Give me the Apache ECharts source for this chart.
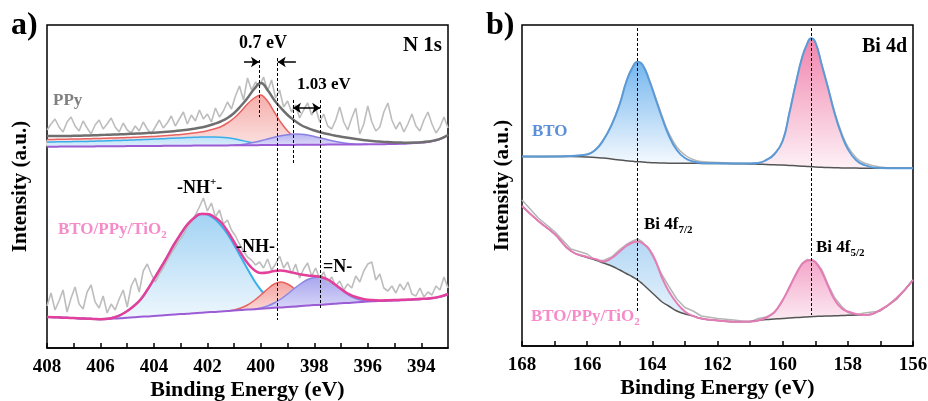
<!DOCTYPE html>
<html>
<head>
<meta charset="UTF-8">
<title>XPS N 1s / Bi 4d</title>
<script src="https://cdn.jsdelivr.net/npm/echarts@6/dist/echarts.min.js"></script>
<style>html,body{margin:0;padding:0;background:#fff;}</style>
</head>
<body>
<div id="myChart" style="width:928px;height:401px;"></div>
<script type="text/javascript">
// ---------- a) N 1s : fit grid 408 -> 393 eV, step 0.25 ----------
var nE = [];
for (var i = 0; i <= 60; i++) nE.push(408 - i * 0.25);
// raw spectra sampled every 0.15 eV
var nRawE = [];
for (var i = 0; i <= 100; i++) nRawE.push(+(408 - i * 0.15).toFixed(2));

var nTicks = [394,395,396,397,398,399,400,401,402,403,404,405,406,407,408];
var nLabels = [394,396,398,400,402,404,406,408];

// PPy (upper)
var ppyFit = [212,212,212,212,212.2,212.3,212.5,212.7,213,213.2,
  213.4,213.7,214,214.3,214.6,215,215.3,215.7,216.2,216.8,
  217.5,218.3,219.3,220.5,222,224,226.5,230,235,242,
  250,259,265,258,248,240,233,227.5,223,220,
  217.5,215.5,214,212.5,211.3,210.2,209.2,208.3,207.5,206.8,
  206.3,205.9,205.6,205.4,205.3,205.4,205.7,206.4,207.6,209.6,213];
var ppyBase = [201.3,201.3,201.4,201.4,201.5,201.5,201.6,201.6,201.7,201.7,
  201.8,201.8,201.9,201.9,202,202,202.1,202.1,202.2,202.2,
  202.3,202.3,202.4,202.4,202.5,202.5,202.6,202.6,202.7,202.7,
  202.8,202.8,202.9,202.9,203,203,203.1,203.1,203.2,203.2,
  203.3,203.3,203.4,203.4,203.5,203.5,203.6,203.6,203.7,203.7,
  203.8,203.9,204,204.2,204.5,204.9,205.4,206.1,207.3,209.4,213];
var ppyRed = [208.5,208.6,208.7,208.8,209,209.1,209.2,209.4,209.6,209.8,
  210,210.2,210.4,210.7,211,211.3,211.6,212,212.5,213,
  213.5,214.2,215,216,217.3,219,221.3,225,230,236.5,
  244,250,253,247,236,225.5,217,211,207,204.7,203.5];
var ppyRedFrom = 408;
var ppyBlue = [206,206.1,206.2,206.3,206.4,206.5,206.6,206.8,207,207.2,
  207.4,207.6,207.8,208,208.3,208.6,208.9,209.2,209.5,209.8,
  210.1,210.4,210.7,210.9,211,211,210.8,210.2,209.2,207.8,
  206.3,205,204,203.3,202.9];
var ppyBlueFrom = 408;
var ppyPurple = [202.7,203.3,204.3,205.7,207.3,209,210.7,212.2,213.3,214,
  213.8,213,211.6,210,208.3,206.8,205.5,204.6,204,203.7,203.6];
var ppyPurpleFrom = 401;
var ppyRaw = [218,224,229,221,216,226,231,222,217,227,220,
  214,223,228,219,224,230,221,216,225,218,
  215,222,217,226,219,214,221,228,220,225,
  232,222,229,236,224,233,227,238,229,234,
  226,240,231,237,246,239,252,262,248,270,
  258,266,262,271,257,268,250,258,241,247,
  236,243,230,238,245,233,240,226,234,222,
  219,228,241,226,218,230,240,214,224,242,
  226,217,221,236,245,228,219,226,216,224,
  234,222,217,228,236,224,215,221,231,220];

// BTO/PPy/TiO2 (lower)
var lowFit = [31,30.8,30.5,30.2,30,29.6,29.3,29,28.8,29.2,
  30.5,33,37,42,48.5,58,69,80,91.5,103.5,
  114,123.5,130,134,134,131,126,117,106,95,
  85,78,75,75.5,77,77.5,76.5,75,73.5,72.5,
  72,71,68.5,64,59,54.5,51.5,49.5,48.3,47.8,
  47.6,47.7,47.9,48.2,48.5,48.8,49.2,49.6,50.3,51.8,54];
var lowBase = [31,30.8,30.5,30.2,30,29.6,29.3,29,28.7,28.9,
  29.4,29.8,30.3,30.7,31.2,31.6,32.1,32.5,33,33.4,
  33.9,34.3,34.8,35.2,35.7,36.1,36.6,37,37.5,37.9,
  38.4,38.8,39.3,39.7,40.2,40.6,41.1,41.5,42,42.4,
  42.9,43.3,43.8,44.2,44.7,45.1,45.6,46,46.5,46.8,
  47,47.2,47.4,47.7,48,48.4,48.8,49.3,50,51.5,54];
var lowNHp = [31,30.8,30.5,30.2,30,29.6,29.3,29,28.8,29.2,
  30.5,33,37,42,48.5,58,69,80,91.5,103.5,
  114,123.5,130,134,133.5,129.5,123,114,103,91,
  79,67.5,58,51,46,43.5,42,41.7,42];
var lowNHpFrom = 408;
var lowNH = [37,38,40,43,47.5,53,59,64,66,64,59.5,53.5,48,44.7,43.6,43.8];
var lowNHFrom = 401.25;
var lowN = [38.8,40,42,45,49,54,59.5,64.5,68.5,70.5,70.5,68.5,64,58.5,53.5,50,47.8,46.8,46.8];
var lowNFrom = 400.25;
var lowRaw = [42,55,38,47,58,36,50,61,44,39,56,
  63,46,40,52,35,44,38,49,58,41,
  62,70,56,77,84,74,66,74,80,88,
  95,101,108,113,121,126,133,141,150,137,
  145,131,138,124,128,118,112,104,97,91,
  88,83,86,80,89,78,84,92,80,86,
  74,84,70,79,85,72,80,69,76,65,
  71,62,67,58,64,60,72,66,77,84,
  86,68,74,60,57,62,55,64,58,66,
  54,52,60,51,56,53,62,58,71,60];

// ---------- b) Bi 4d ----------
var bE = [168,167.5,167,166.5,166,165.75,165.5,165.25,165,164.8,164.6,164.45,164.3,164.1,163.9,163.7,163.5,163.25,163,162.75,
  162.5,162,161.5,161,160.75,160.5,160.25,160,159.8,159.6,159.4,159.25,159.13,159,158.8,158.6,158.4,158.2,158,157.75,
  157.5,157,156.5,156];
var bTicks = [156,157,158,159,160,161,162,163,164,165,166,167,168];
var bLabels = [156,158,160,162,164,166,168];

var btoFit = [189.5,189.5,189.5,190,191.5,196,206,221,242,264,279,284.3,281,266,247,228,211,196,188,184.5,
  183,182.7,182.5,182.5,183,186,192,205,232,262,289,302,307.7,304,281,257,232,212,197,186,
  181,178,177.7,177.7];
var btoBase = [189.5,189.5,189.5,189.5,189,188.5,188,187,186,185.3,184.7,184.3,184,183.5,183.2,183,182.8,182.7,182.7,182.7,
  182.6,182.5,182.3,182,181.8,181.5,181.2,181,180.6,180.2,179.8,179.5,179.3,179,178.7,178.4,178.2,178.1,178,177.9,
  177.8,177.7,177.7,177.7];
var btoRaw = [189.5,189.3,189.6,190.2,191.8,196.5,206.5,221.5,242.5,264.5,279.5,284,281.5,267,248.5,230,213.5,199,191,186.5,
  184.5,183.5,183,182.8,183.3,186.3,192.5,205.5,232.5,262.5,289,302,307,304,281.5,258,233.5,214,199.5,188.5,
  183,179,178,177.8];
var bLowFit = [140,125,112,95,89,87,84.5,88,94.5,100,103.5,104.5,102.5,97,85,68,55,43,34.5,30,
  27.5,25.5,24.3,24.5,25.5,28.5,34,46,58,71,82,85.5,86,84,74,59.5,46,38,34.5,32,
  31,36,48,66];
var bLowBase = [140,125,112,95,88.5,86,83,80,76,72.5,69,66,62,56,50,44,40,35,32,30,
  27.5,25.5,24.3,24.5,25.5,26.5,27,27.5,28,28.4,28.8,29.1,29.3,29.5,29.8,30,30.2,30.5,30.7,31,
  31,36,48,66];
var bLowRaw = [146,128,114.5,97,92,86,85.5,89,96.5,101.5,105,107,104,96,84,71,60,47,38.5,35,
  30,27.5,26,24,27.5,29,33.5,45,59,72,83,86.5,85,84.5,76.5,61,48,40,33.5,31,
  33,35,46.5,66];

var fontFam = '"Liberation Serif", "Times New Roman", serif';

function pairs(xs, ys) {
  return xs.map(function (x, k) { return [x, ys[k]]; });
}
// put a component that starts at energy `from` onto the full 0.25 eV grid
function place(arr, from) {
  var start = Math.round((408 - from) / 0.25), out = [];
  for (var k = 0; k < nE.length; k++) {
    out.push(k >= start && k < start + arr.length ? arr[k - start] : null);
  }
  return out;
}
function part(arr, i0, i1) {
  return arr.map(function (v, k) { return (k >= i0 && k <= i1) ? v : null; });
}
function grad(c1, c2) {
  return {type: 'linear', x: 0, y: 0, x2: 0, y2: 1, global: false,
    colorStops: [{offset: 0, color: c1}, {offset: 1, color: c2}]};
}
function lineS(g, data, color, width, smooth) {
  return {type: 'line', xAxisIndex: g, yAxisIndex: g, data: data, symbol: 'none', smooth: smooth,
    silent: true, lineStyle: {color: color, width: width}};
}
// filled band between a component (top) and its baseline, drawn through the axes' scales
function band(g, xs, top, base, lineColor, lineWidth, c1, c2) {
  var idx = [];
  for (var k = 0; k < xs.length; k++) if (top[k] != null) idx.push(k);
  return {
    type: 'custom', xAxisIndex: g, yAxisIndex: g, silent: true,
    data: [[xs[idx[0]], top[idx[0]]]],
    renderItem: function (params, api) {
      var up = [], dn = [];
      idx.forEach(function (k) {
        up.push(api.coord([xs[k], top[k]]));
        dn.push(api.coord([xs[k], base[k]]));
      });
      var kids = [{type: 'polygon', shape: {points: up.concat(dn.slice().reverse()), smooth: 0.3},
        style: {fill: grad(c1, c2), stroke: null}}];
      if (lineWidth) {
        kids.push({type: 'polyline', shape: {points: up, smooth: 0.3},
          style: {fill: null, stroke: lineColor, lineWidth: lineWidth}});
      }
      return {type: 'group', children: kids};
    }
  };
}
function xAx(g, min, max, ticks, labels) {
  return {
    gridIndex: g, type: 'value', inverse: true, min: min, max: max,
    name: 'Binding Energy (eV)', nameLocation: 'middle', nameGap: 31, nameMoveOverlap: false,
    nameTextStyle: {fontFamily: fontFam, fontWeight: 'bold', fontSize: 22, color: '#000'},
    axisLine: {lineStyle: {color: '#000', width: 1.5}},
    axisTick: {inside: true, length: 5, customValues: ticks, lineStyle: {color: '#000', width: 1.5}},
    axisLabel: {customValues: labels, margin: 10, fontFamily: fontFam, fontWeight: 'bold', fontSize: 19, color: '#000'},
    splitLine: {show: false}
  };
}
function yAx(g, max, gap) {
  return {
    gridIndex: g, type: 'value', min: 0, max: max,
    name: 'Intensity (a.u.)', nameLocation: 'middle', nameGap: gap, nameRotate: 90, nameMoveOverlap: false,
    nameTextStyle: {fontFamily: fontFam, fontWeight: 'bold', fontSize: 21, color: '#000'},
    axisLine: {show: false}, axisTick: {show: false}, axisLabel: {show: false}, splitLine: {show: false}
  };
}
function T(x, y, s, size, color, align, rich) {
  var st = {text: s, fontFamily: fontFam, fontWeight: 'bold', fontSize: size, fill: color,
    align: align || 'left', textAlign: align || 'left', verticalAlign: 'middle', textVerticalAlign: 'middle'};
  if (rich) st.rich = rich;
  return {type: 'text', x: x, y: y, silent: true, z: 100, style: st};
}
function richSet(size, color) {
  return {
    m: {fontFamily: fontFam, fontWeight: 'bold', fontSize: size, fill: color, lineHeight: size + 4},
    s: {fontFamily: fontFam, fontWeight: 'bold', fontSize: Math.round(size * 0.62), fill: color, verticalAlign: 'bottom'},
    p: {fontFamily: fontFam, fontWeight: 'bold', fontSize: Math.round(size * 0.62), fill: color, verticalAlign: 'top'}
  };
}

var dash = {type: [3, 2], color: '#000', width: 1};
var series = [];

// ----- panel a -----
series.push(lineS(0, pairs(nRawE, ppyRaw), '#bdbdbd', 1.6, false));
series.push(lineS(0, pairs(nRawE, lowRaw), '#bdbdbd', 1.6, false));
series.push(band(0, nE, place(ppyRed, ppyRedFrom), ppyBase, '#e8625f', 1.5, '#f5aeab', '#fbe2e1'));
series.push(band(0, nE, place(ppyBlue, ppyBlueFrom), ppyBase, '#38aeea', 1.5, '#bfe2f8', '#ddeffb'));
series.push(band(0, nE, place(ppyPurple, ppyPurpleFrom), ppyBase, '#8a80e2', 1.5, '#b7b3f2', '#dcdaf8'));
series.push(lineS(0, pairs(nE, ppyBase), '#9b5cd6', 2, true));
var ppyLine = lineS(0, pairs(nE, ppyFit), '#6f6f6f', 2.5, true);
ppyLine.markLine = {
  silent: true, animation: false, symbolSize: 8, label: {show: false},
  lineStyle: {type: 'solid', color: '#000', width: 1.5},
  data: [
    [{coord: [400.63, 286], symbol: 'none'}, {coord: [400.07, 286], symbol: 'arrow'}],
    [{coord: [398.69, 286], symbol: 'none'}, {coord: [399.37, 286], symbol: 'arrow'}],
    [{coord: [398.8, 240], symbol: 'arrow'}, {coord: [397.78, 240], symbol: 'arrow'}]
  ]
};
series.push(ppyLine);
series.push(band(0, nE, place(lowNHp, lowNHpFrom), lowBase, '#38b0ea', 2, '#a3d3f4', '#eef7fd'));
series.push(band(0, nE, place(lowNH, lowNHFrom), lowBase, '#e8625f', 1.5, '#f4a3a0', '#fbd8d6'));
series.push(band(0, nE, place(lowN, lowNFrom), lowBase, '#8a86e4', 1.5, '#a9a6ef', '#d9d8f8'));
series.push(lineS(0, pairs(nE, lowBase), '#9b5cd6', 2, true));
var lowLine = lineS(0, pairs(nE, lowFit), '#e33f9b', 2.5, true);
lowLine.markLine = {
  silent: true, animation: false, symbol: 'none', label: {show: false}, lineStyle: dash,
  data: [
    [{coord: [400.07, 288]}, {coord: [400.07, 231]}],
    [{coord: [399.37, 290]}, {coord: [399.37, 28]}],
    [{coord: [398.8, 248]}, {coord: [398.8, 185]}],
    [{coord: [397.78, 248]}, {coord: [397.78, 40]}]
  ]
};
series.push(lowLine);

// ----- panel b -----
series.push(lineS(1, pairs(bE, btoRaw), '#b5b5b5', 1.5, true));
series.push(band(1, bE, part(btoFit, 0, 22), btoBase, null, 0, '#74b6ee', '#f4f9fe'));
series.push(band(1, bE, part(btoFit, 22, 43), btoBase, null, 0, '#f184ad', '#fdf1f6'));
series.push(lineS(1, pairs(bE, btoBase), '#555555', 1.5, true));
series.push(lineS(1, pairs(bE, btoFit), '#5a9ad8', 2, true));
series.push(lineS(1, pairs(bE, bLowRaw), '#b5b5b5', 1.5, false));
series.push(band(1, bE, part(bLowFit, 0, 22), bLowBase, null, 0, '#9ccbf2', '#eaf4fc'));
series.push(band(1, bE, part(bLowFit, 22, 43), bLowBase, null, 0, '#f4a5c9', '#fcecf3'));
series.push(lineS(1, pairs(bE, bLowBase), '#555555', 1.5, true));
var bLowLine = lineS(1, pairs(bE, bLowFit), '#e47db6', 2, true);
bLowLine.markLine = {
  silent: true, animation: false, symbol: 'none', label: {show: false}, lineStyle: dash,
  data: [
    [{coord: [164.45, 318]}, {coord: [164.45, 33]}],
    [{coord: [159.13, 318]}, {coord: [159.13, 31]}]
  ]
};
series.push(bLowLine);

var texts = [
  T(11, 26, 'a)', 32, '#000'),
  T(486, 26, 'b)', 32, '#000'),
  T(442, 46, 'N 1s', 21, '#000', 'right'),
  T(263, 43, '0.7 eV', 18, '#000', 'center'),
  T(297, 85, '1.03 eV', 17, '#000'),
  T(53, 101, 'PPy', 17, '#808080'),
  T(177, 188, '{m|-NH}{p|+}{m|-}', 18, '#000', 'left', richSet(18, '#000')),
  T(58, 230, '{m|BTO/PPy/TiO}{s|2}', 17, '#f58cc8', 'left', richSet(17, '#f58cc8')),
  T(236, 247, '-NH-', 18, '#000'),
  T(323, 267, '=N-', 18, '#000'),
  T(907, 47, 'Bi 4d', 20, '#000', 'right'),
  T(532, 132, 'BTO', 17, '#5b8fd9'),
  T(644, 225, '{m|Bi 4f}{s|7/2}', 17, '#000', 'left', richSet(17, '#000')),
  T(816, 248, '{m|Bi 4f}{s|5/2}', 17, '#000', 'left', richSet(17, '#000')),
  T(531, 317, '{m|BTO/PPy/TiO}{s|2}', 17, '#f58cc8', 'left', richSet(17, '#f58cc8'))
];

var myChart = echarts.init(document.getElementById('myChart'));
myChart.setOption({
  animation: false,
  backgroundColor: '#fff',
  grid: [
    {left: 47, top: 25, width: 401, height: 323, show: true, borderColor: '#000', borderWidth: 1.5,
      outerBoundsMode: 'none'},
    {left: 522, top: 25, width: 391, height: 321, show: true, borderColor: '#000', borderWidth: 1.5,
      outerBoundsMode: 'none'}
  ],
  xAxis: [xAx(0, 393, 408, nTicks, nLabels), xAx(1, 156, 168, bTicks, bLabels)],
  yAxis: [yAx(0, 323, 16), yAx(1, 321, 9)],
  series: series,
  graphic: {elements: texts}
});
</script>
</body>
</html>
